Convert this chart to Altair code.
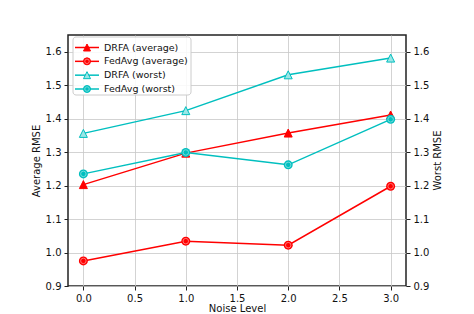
import altair as alt
import pandas as pd

noise = [0.0, 1.0, 2.0, 3.0]
drfa_avg = [1.203, 1.297, 1.357, 1.411]
fedavg_avg = [0.975, 1.034, 1.022, 1.198]
drfa_worst = [1.356, 1.424, 1.531, 1.581]
fedavg_worst = [1.235, 1.299, 1.262, 1.398]

series_names = ["DRFA (average)", "FedAvg (average)", "DRFA (worst)", "FedAvg (worst)"]
line_colors = ["#ff0000", "#ff0000", "#00bfbf", "#00bfbf"]
fill_colors = ["#ff0000", "#ff0000", "#9ae6e6", "#00bfbf"]

rows = []
for name, vals in zip(series_names, [drfa_avg, fedavg_avg, drfa_worst, fedavg_worst]):
    for x, v in zip(noise, vals):
        rows.append({"x": x, "v": v, "series": name})
df = pd.DataFrame(rows)
leg_df = pd.DataFrame({"series": series_names})

FONT = "DejaVu Sans"
tri_path = "M0,-1L1,1L-1,1Z"

xenc = alt.X("x:Q", scale=alt.Scale(domain=[-0.15, 3.15], nice=False, zero=False),
             axis=alt.Axis(values=[0, 0.5, 1, 1.5, 2, 2.5, 3], format=".1f", title="Noise Level",
                           grid=True))
ydom = alt.Scale(domain=[0.9, 1.65], nice=False, zero=False)
yticks = [0.9, 1.0, 1.1, 1.2, 1.3, 1.4, 1.5, 1.6]
yleft = alt.Y("v:Q", scale=ydom, axis=alt.Axis(values=yticks, format=".1f", title="Average RMSE",
                                                 orient="left", grid=True))
yright = alt.Y("v:Q", scale=ydom, axis=alt.Axis(values=yticks, format=".1f", title="Worst RMSE",
                                                  orient="right", grid=False, titleAngle=270,
                                                  titleX=31, titleY=125, titleAlign="center",
                                                  titleBaseline="middle"))
cenc = alt.Color("series:N", scale=alt.Scale(domain=series_names, range=line_colors), legend=None)


def group(names, yenc, col, tri_fill):
    d = df[df["series"].isin(names)]
    base = alt.Chart(d)
    line = base.mark_line(strokeWidth=1.5).encode(x=xenc, y=yenc, color=cenc, detail="series:N")
    tri = base.transform_filter(alt.datum.series == names[0]) \
        .mark_point(shape=tri_path, size=64, filled=False, strokeWidth=1, opacity=1,
                    stroke=col, fill=tri_fill, fillOpacity=1) \
        .encode(x=xenc, y=yenc)
    circ = base.transform_filter(alt.datum.series == names[1]) \
        .mark_point(shape="circle", size=81, filled=True, opacity=1, strokeWidth=1, color=col) \
        .encode(x=xenc, y=yenc)
    ring = base.transform_filter(alt.datum.series == names[1]) \
        .mark_point(shape="circle", size=30, filled=False, opacity=0.45, strokeWidth=1, color="white") \
        .encode(x=xenc, y=yenc)
    return alt.layer(line, tri, circ, ring)


left = group(series_names[:2], yleft, "#ff0000", "#ff0000")
right = group(series_names[2:], yright, "#00bfbf", "#9ae6e6")

# legend (drawn from the series list through a point scale)
ly = alt.Y("series:N", scale=alt.Scale(type="point", domain=series_names, range=[12.5, 54], padding=0),
           axis=None)
lbase = alt.Chart(leg_df)
box = lbase.transform_filter(alt.datum.series == series_names[0]).mark_rect(
    fill="white", fillOpacity=0.85, stroke="#cccccc", strokeWidth=1, cornerRadius=3
).encode(x=alt.value(5), x2=alt.value(123), y=alt.value(2), y2=alt.value(60))
lline = lbase.mark_rule(strokeWidth=1.5).encode(
    x=alt.value(7), x2=alt.value(31), y=ly,
    color=alt.Color("series:N", scale=alt.Scale(domain=series_names, range=line_colors), legend=None))
lshape = lbase.mark_point(filled=True, opacity=1, size=49, strokeWidth=1).encode(
    x=alt.value(19), y=ly,
    shape=alt.Shape("series:N", scale=alt.Scale(domain=series_names,
                                                range=[tri_path, "circle", tri_path, "circle"]), legend=None),
    fill=alt.Fill("series:N", scale=alt.Scale(domain=series_names, range=fill_colors), legend=None),
    stroke=alt.Stroke("series:N", scale=alt.Scale(domain=series_names, range=line_colors), legend=None),
)
lring = lbase.transform_filter(alt.FieldOneOfPredicate(field="series", oneOf=[series_names[1], series_names[3]])) \
    .mark_point(shape="circle", size=20, filled=False, opacity=0.45, strokeWidth=1, color="white") \
    .encode(x=alt.value(19), y=ly)
ltext = lbase.mark_text(align="left", baseline="middle", font=FONT, fontSize=9.5, color="#111111").encode(
    x=alt.value(36), y=ly, text="series:N")
legend = alt.layer(box, lline, lshape, lring, ltext)

chart = alt.layer(left, right, legend).resolve_scale(y="independent").properties(
    width=338, height=251,
    autosize=alt.AutoSizeParams(type="none"),
    padding={"left": 60, "top": 27, "right": 60, "bottom": 28},
).configure_view(stroke="#222222", strokeWidth=1.5).configure_axis(
    domain=False, tickColor="#222222", tickSize=4, tickWidth=1,
    labelFont=FONT, labelFontSize=10, labelColor="#111111", labelPadding=3,
    titleFont=FONT, titleFontSize=10, titleFontWeight="normal", titleColor="#111111",
    gridColor="#c8c8c8", gridWidth=0.8,
).configure_axisY(titlePadding=4).configure_axisX(titlePadding=0)

chart.save("out.html", embed_options={"renderer": "svg", "actions": False})
